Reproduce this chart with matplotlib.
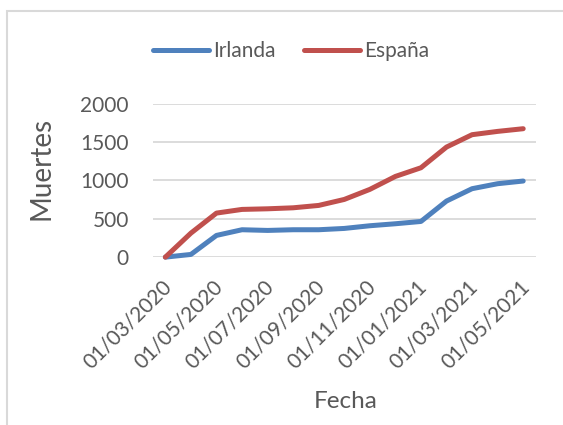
import numpy as np
import matplotlib.pyplot as plt
import matplotlib.transforms as mtransforms
from matplotlib.patches import Rectangle

# monthly dates, 01/03/2020 .. 01/05/2021
fechas = ['01/03/2020', '01/04/2020', '01/05/2020', '01/06/2020', '01/07/2020',
          '01/08/2020', '01/09/2020', '01/10/2020', '01/11/2020', '01/12/2020',
          '01/01/2021', '01/02/2021', '01/03/2021', '01/04/2021', '01/05/2021']
irlanda = [0, 35, 283, 357, 348, 357, 357, 374, 409, 435, 465, 731, 892, 957, 992]
espana = [0, 313, 574, 622, 630, 643, 674, 752, 883, 1052, 1165, 1435, 1596, 1639, 1674]

plt.rcParams['font.family'] = ['Lato', 'DejaVu Sans']
gris = '#595959'

fig = plt.figure(figsize=(5.63, 4.25), dpi=100)
ax = fig.add_axes([0.271, 0.395, 0.681, 0.361])

x = np.arange(len(fechas))
ax.plot(x, irlanda, color='#4F81BD', lw=3.6, solid_capstyle='round', clip_on=False, label='Irlanda')
ax.plot(x, espana, color='#C0504D', lw=3.6, solid_capstyle='round', clip_on=False, label='España')

ax.set_xlim(-0.5, len(fechas) - 0.5)
ax.set_ylim(0, 2000)
ax.set_yticks([0, 500, 1000, 1500, 2000])
ax.set_xticks(x[::2])
ax.set_xticklabels(fechas[::2], rotation=45, ha='right', va='center', rotation_mode='anchor')

ax.grid(axis='y', color='#D9D9D9', lw=1.3)
ax.set_axisbelow(True)
for s in ax.spines.values():
    s.set_visible(False)
ax.tick_params(length=0, labelsize=15, colors=gris)
ax.tick_params(axis='y', pad=17)
ax.tick_params(axis='x', pad=19)
shift = mtransforms.ScaledTranslation(3 / 100, 0, fig.dpi_scale_trans)
for lbl in ax.get_xticklabels():
    lbl.set_transform(lbl.get_transform() + shift)

ax.set_ylabel('Muertes', fontsize=20, color=gris)
ax.yaxis.set_label_coords(-0.255, 0.58)
ax.set_xlabel('Fecha', fontsize=17.5, color=gris)
ax.xaxis.set_label_coords(0.504, -0.875)

fig.legend(loc='center', bbox_to_anchor=(0.517, 0.88), ncol=2, frameon=False,
           fontsize=15, handlelength=2.7, handletextpad=0.2, columnspacing=1.35,
           labelcolor=gris)

# outer chart border
fig.add_artist(Rectangle((7.5 / 563, -0.1), 1.2, 1.1 - 11 / 425, transform=fig.transFigure,
                         fill=False, edgecolor='#D9D9D9', lw=1.5))

fig.savefig('out.png', dpi=100)
